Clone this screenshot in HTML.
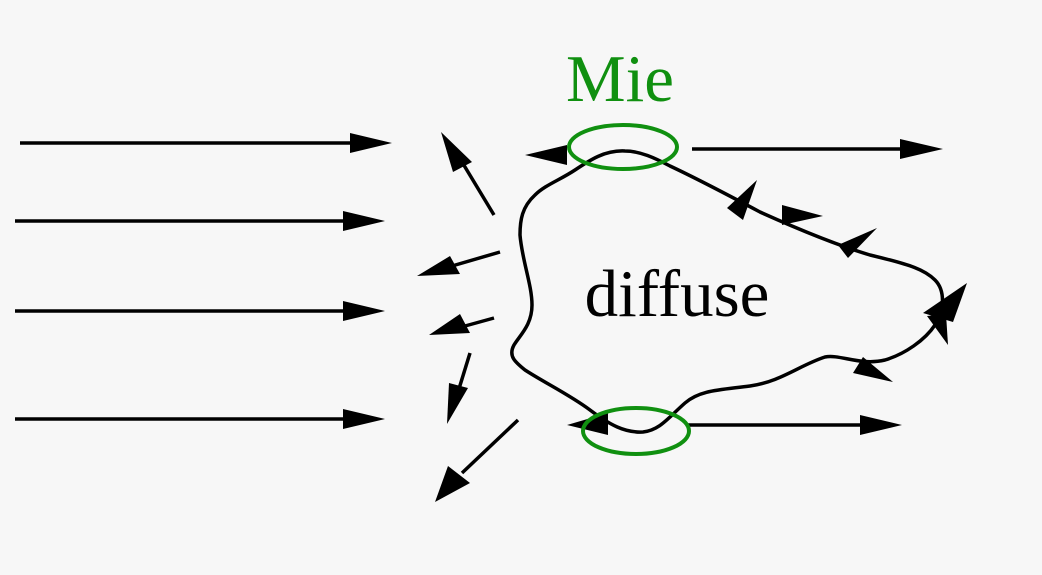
<!DOCTYPE html>
<html><head><style>html,body{margin:0;padding:0;background:#f7f7f7}svg{display:block}</style></head>
<body>
<svg width="1042" height="575" viewBox="0 0 1042 575" xmlns="http://www.w3.org/2000/svg">
<rect width="1042" height="575" fill="#f7f7f7"/>
<g stroke="#000" stroke-width="3.5" fill="none">
<line x1="20" y1="143" x2="352" y2="143"/>
<line x1="15" y1="221" x2="345" y2="221"/>
<line x1="15" y1="311" x2="345" y2="311"/>
<line x1="15" y1="419" x2="345" y2="419"/>
<line x1="494" y1="215" x2="462" y2="162"/>
<line x1="500" y1="252" x2="452" y2="266"/>
<line x1="494" y1="318" x2="465" y2="326"/>
<line x1="470" y1="353" x2="458" y2="392"/>
<line x1="518" y1="420" x2="462" y2="473"/>
<line x1="692" y1="149" x2="902" y2="149"/>
<line x1="686" y1="425" x2="862" y2="425"/>
<path d="M625,151 C605,150 590,160 575,170 C560,180 545,185 535,195 C522,207 520,220 520,235 C522,260 532,285 532,305 C532,325 520,335 514,345 C508,356 515,362 525,370 C545,383 570,395 590,410 C610,425 625,433 643,432 C660,430 668,418 685,403 C700,390 720,390 750,386 C780,382 800,365 825,357 C840,354 860,366 885,360 C905,354 925,340 935,325 C945,310 945,290 935,280 C925,270 912,265 870,255 C840,246 800,230 760,212 C730,196 700,180 670,166 C655,158 640,151 625,151 Z"/>
</g>
<g fill="#000">
<polygon points="350,133 392,143 350,153"/>
<polygon points="343,211 385,221 343,231"/>
<polygon points="343,301 385,311 343,321"/>
<polygon points="343,409 385,419 343,429"/>
<polygon points="441,132 453,172 472,162"/>
<polygon points="417,276 450,256 460,274"/>
<polygon points="429,335 460,314 470,333"/>
<polygon points="447,424 449,383 468,388"/>
<polygon points="435,502 448,466 470,483"/>
<polygon points="900,139 943,149 900,159"/>
<polygon points="860,415 902,425 860,435"/>
<polygon points="525,155 567,145 567,165"/>
<polygon points="567,425 608,413 608,435"/>
<polygon points="757,180 727,208 743,220"/>
<polygon points="782,205 823,216 782,225"/>
<polygon points="877,228 838,245 848,258"/>
<polygon points="967,283 923,313 953,322"/>
<polygon points="927,316 948,345 946,314"/>
<polygon points="863,357 893,382 853,373"/>
</g>
<g stroke="#109010" stroke-width="4" fill="none">
<ellipse cx="623" cy="147" rx="54" ry="22"/>
<ellipse cx="636" cy="431" rx="53" ry="23"/>
</g>
<text x="620" y="101" text-anchor="middle" font-family="Liberation Serif, serif" font-size="67" fill="#109010">Mie</text>
<text x="677" y="316" text-anchor="middle" font-family="Liberation Serif, serif" font-size="67" fill="#000">diffuse</text>
</svg>
</body></html>
